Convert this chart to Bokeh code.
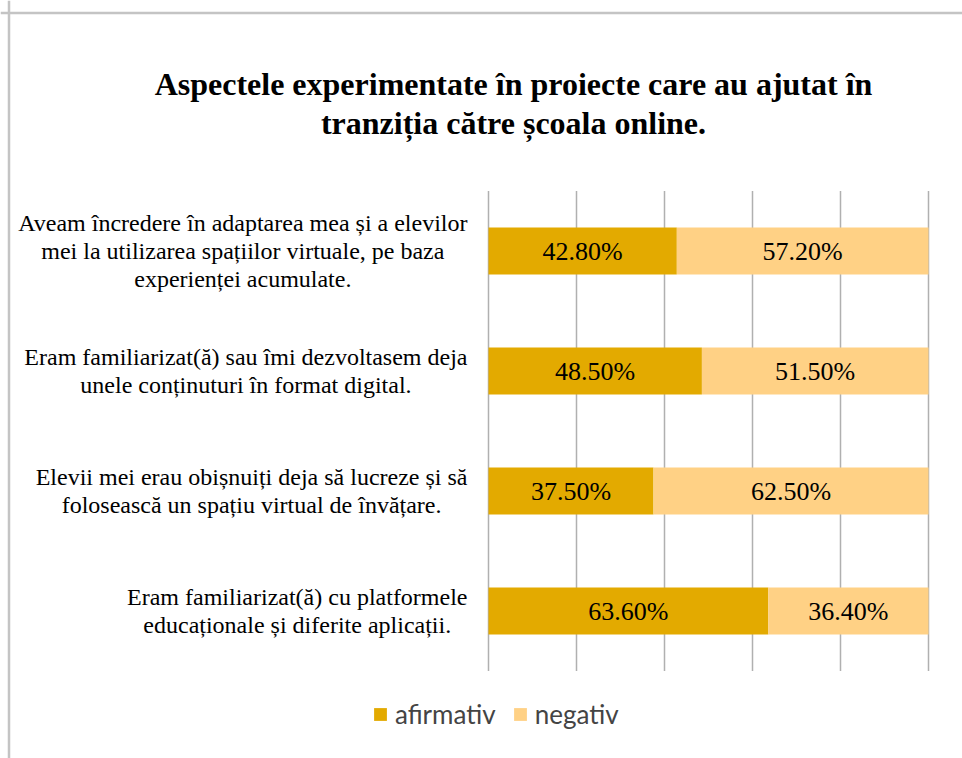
from bokeh.plotting import figure
from bokeh.models import (Range1d, LabelSet, ColumnDataSource, Label, Legend, LegendItem, Span)
from bokeh.core.properties import value
from bokeh.embed import file_html
from bokeh.resources import INLINE

# ---- data ----
categories = [
    "Aveam încredere în adaptarea mea și a elevilor\nmei la utilizarea spațiilor virtuale, pe baza\nexperienței acumulate.",
    "Eram familiarizat(ă) sau îmi dezvoltasem deja\nunele conținuturi în format digital.",
    "Elevii mei erau obișnuiți deja să lucreze și să\nfolosească un spațiu virtual de învățare.",
    "Eram familiarizat(ă) cu platformele\neducaționale și diferite aplicații.",
]
afirmativ = [42.8, 48.5, 37.5, 63.6]
negativ = [57.2, 51.5, 62.5, 36.4]
series = ["afirmativ", "negativ"]
colors = ["#E3AA00", "#FFD185"]
grid_ticks = [0, 20, 40, 60, 80, 100]
title_text = "Aspectele experimentate în proiecte care au ajutat în\ntranziția către școala online."

# ---- layout constants (pixels) ----
W, H = 962, 758
px_per_pct = 4.4          # 100 % = 440 px
zero_px = 488             # x pixel of 0 %
row_px = 120              # pixels per category row
first_row_px = 250.5      # y pixel (from top) of first category centre

n = len(categories)
ypos = [n - 1 - i for i in range(n)]

x_lo = -zero_px / px_per_pct
x_hi = x_lo + W / px_per_pct
y_hi = (n - 1) + first_row_px / row_px
y_lo = y_hi - H / row_px

src = ColumnDataSource(dict(y=ypos, cat=categories, afirmativ=afirmativ, negativ=negativ))

p = figure(width=W, height=H, x_range=Range1d(x_lo, x_hi), y_range=Range1d(y_lo, y_hi),
           output_backend="svg", toolbar_location=None,
           min_border=0, min_border_left=0, min_border_right=0,
           min_border_top=0, min_border_bottom=0)
p.axis.visible = False
p.grid.visible = False
p.outline_line_color = None
p.background_fill_color = "white"
p.border_fill_color = "white"

# chart border (left & top)
p.add_layout(Span(location=x_lo + 8.5 / px_per_pct, dimension="height",
                  line_color="#c4c4c4", line_width=2.5))
p.add_layout(Span(location=y_hi - 12.5 / row_px, dimension="width",
                  line_color="#c4c4c4", line_width=2.5))

# vertical grid lines spanning the category band
p.segment(x0=grid_ticks, x1=grid_ticks, y0=[-0.5] * len(grid_ticks),
          y1=[n - 0.5] * len(grid_ticks), line_color="#b0b0b0", line_width=1.5)

renderers = p.hbar_stack(series, y="y", height=0.39, color=colors, line_color=None, source=src)

# category labels
p.text(x=[0] * n, y=ypos, text=categories, x_offset=-21,
       text_align="center", anchor="center_right", text_baseline="middle",
       text_font=value("Liberation Serif"), text_font_size="24px",
       text_line_height=1.08, text_color="#000000")

# data labels
mid_a = [a / 2 for a in afirmativ]
mid_n = [a + b / 2 for a, b in zip(afirmativ, negativ)]
lab_src = ColumnDataSource(dict(
    x=mid_a + mid_n,
    y=ypos + ypos,
    t=[f"{v:.2f}%" for v in afirmativ + negativ],
))
p.add_layout(LabelSet(x="x", y="y", text="t", source=lab_src, text_align="center",
                      text_baseline="middle", text_font="Lato", text_font_size="26px",
                      text_color="#000000"))

# title
p.add_layout(Label(x=513, y=H - 103, x_units="screen", y_units="screen", text=title_text,
                   text_align="center", text_baseline="middle", text_font="Liberation Serif",
                   text_font_style="bold", text_font_size="32px", text_line_height=1.1,
                   text_color="#000000"))

# legend
legend = Legend(items=[LegendItem(label=s, renderers=[r]) for s, r in zip(series, renderers)],
                orientation="horizontal", location=(372, 28),
                label_text_font="Lato", label_text_font_size="26px",
                label_standoff=7, glyph_width=16, glyph_height=16, spacing=16,
                padding=10, border_line_color=None, background_fill_alpha=0)
p.add_layout(legend)

open("out.html", "w").write(file_html(p, INLINE))
